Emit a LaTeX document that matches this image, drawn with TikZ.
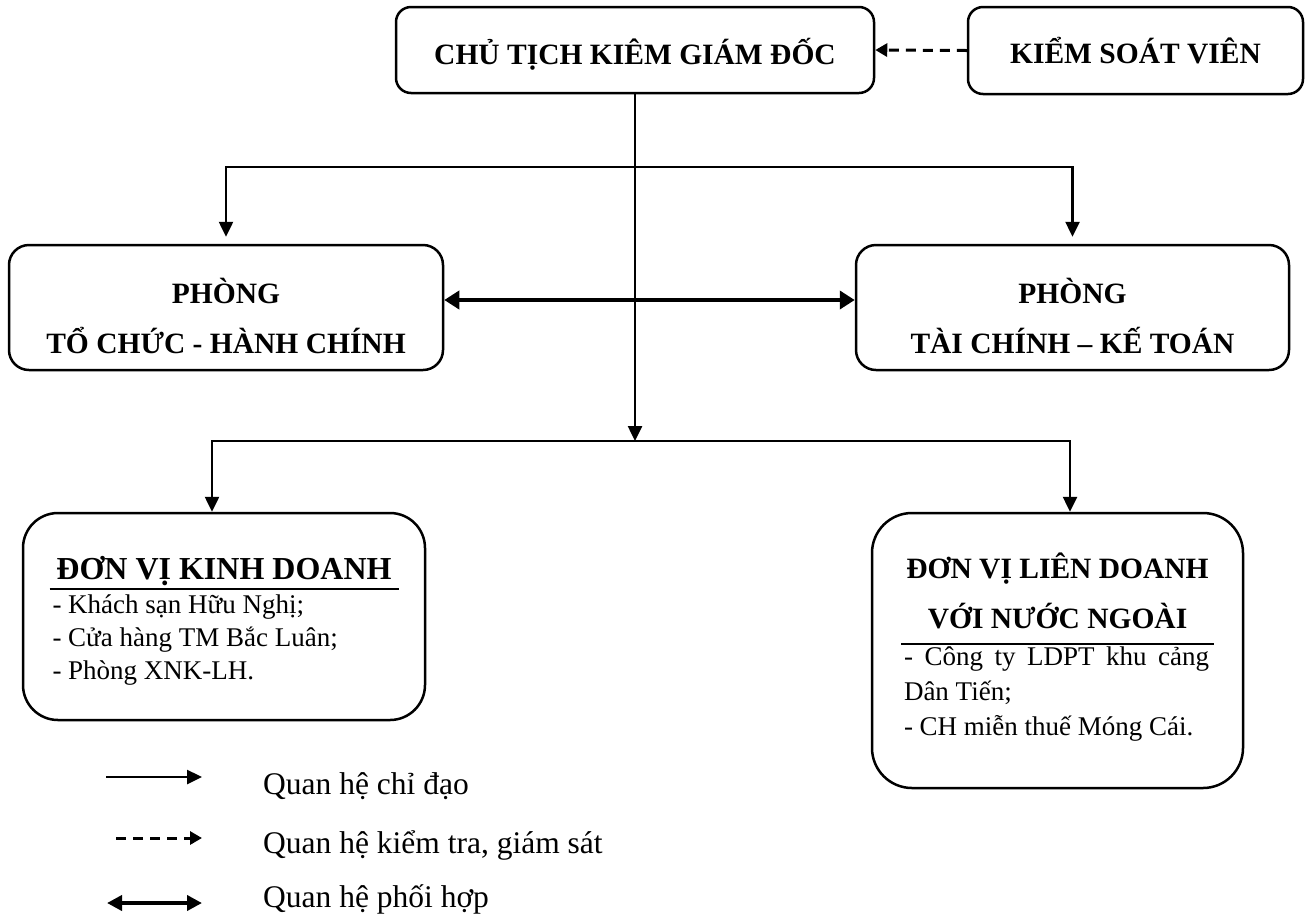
\documentclass[tikz,border=0pt]{standalone}
\usepackage{fontspec}
\setmainfont{Liberation Serif}
\usetikzlibrary{arrows.meta}

\newcommand{\hdfont}{\fontsize{29.5}{50}\selectfont\bfseries}
\newcommand{\txfont}{\fontsize{27}{33}\selectfont\mdseries}
\newcommand{\lgfont}{\fontsize{31.5}{36}\selectfont\mdseries}

\begin{document}
\begin{tikzpicture}[x=1pt, y=-1pt,
	box/.style={draw, line width=2.5pt, rounded corners=#1, align=center, inner sep=0pt, font=\hdfont},
	box/.default=15pt,
	lead/.style={line width=2.5pt, -{Triangle[length=15pt, width=14pt]}},
	both/.style={line width=2.5pt, {Triangle[length=15pt, width=14pt]}-{Triangle[length=15pt, width=14pt]}},
	check/.style={line width=3pt, dash pattern=on 10pt off 7pt, -{Triangle[length=12pt, width=13pt]}},
	coop/.style={line width=4.5pt, {Triangle[length=15pt, width=18pt]}-{Triangle[length=15pt, width=18pt]}}]
	\useasboundingbox (0,0) rectangle (1309,914);

	\node[box, minimum width=478pt, minimum height=86pt] at (635,50) (ct) {\rule{0pt}{35pt}CHỦ TỊCH KIÊM GIÁM ĐỐC};
	\node[box, minimum width=335pt, minimum height=87pt] at (1135.5,50.5) (ksv) {KIỂM SOÁT VIÊN};

	\node[box=20pt, minimum width=434pt, minimum height=125pt] at (226,307.5) (tc) {\rule{0pt}{42pt}PHÒNG\\TỔ CHỨC - HÀNH CHÍNH};
	\node[box=20pt, minimum width=433pt, minimum height=125pt] at (1072.5,307.5) (kt) {\rule{0pt}{42pt}PHÒNG\\TÀI CHÍNH – KẾ TOÁN};

	\node[box=35pt, minimum width=402pt, minimum height=207pt] at (224,616.5) (kd) {\begin{minipage}{349pt}
		\kern9pt
		\centering{\fontsize{32}{32}\selectfont\bfseries ĐƠN VỊ KINH DOANH}\par
		\vspace{2pt}\hrule height 2pt\kern5.5pt
		\raggedright\txfont\leftskip=3pt
		- Khách sạn Hữu Nghị;\par
		- Cửa hàng TM Bắc Luân;\par
		- Phòng XNK-LH.\par
	\end{minipage}};

	\node[box=40pt, minimum width=371pt, minimum height=275pt] at (1057.5,650.5) (ld) {\begin{minipage}{313pt}
		\kern9pt
		\centering ĐƠN VỊ LIÊN DOANH\\VỚI NƯỚC NGOÀI\par
		\vspace{14pt}\hrule height 2pt\kern1pt
		\fontsize{27}{35}\selectfont\mdseries
		\leftskip=3pt \rightskip=5pt \parfillskip=0pt plus 1fil
		- Công ty LDPT khu cảng\linebreak Dân Tiến;\par
		- CH miễn thuế Móng Cái.\par
		\kern16pt
	\end{minipage}};

	% branch points
	\coordinate (fork) at (635,167);
	\coordinate (mid) at (635,300);
	\coordinate (hub) at (635,441);
	\coordinate (kdx) at (212,441);
	\coordinate (ldx) at (1070,441);

	\draw[check] (ksv.west) -- (ct.east);
	\draw[lead] (ct.south) -- (hub);
	\draw[both, shorten <=7pt, shorten >=7pt] (tc.north) -- (tc.north |- fork) -- (kt.north |- fork) -- (kt.north);
	\draw[coop] (tc.east |- mid) -- (kt.west |- mid);
	\draw[both] (kdx |- kd.north) -- (kdx) -- (ldx) -- (ldx |- ld.north);

	% legend
	\coordinate (a1) at (106,777); \coordinate (b1) at (202,777);
	\coordinate (a2) at (116,838); \coordinate (b2) at (202,838);
	\coordinate (a3) at (107,903); \coordinate (b3) at (202,903);
	\draw[lead] (a1) -- (b1);
	\draw[check] (a2) -- (b2);
	\draw[line width=4pt, {Triangle[length=15pt, width=15pt]}-{Triangle[length=15pt, width=15pt]}] (a3) -- (b3);
	\node[anchor=base west, font=\lgfont, inner sep=0pt] at (263,794) (lg1) {Quan hệ chỉ đạo};
	\node[anchor=base west, font=\lgfont, inner sep=0pt] at (263,853) (lg2) {Quan hệ kiểm tra, giám sát};
	\node[anchor=base west, font=\lgfont, inner sep=0pt] at (263,907) (lg3) {Quan hệ phối hợp};
\end{tikzpicture}
\end{document}
